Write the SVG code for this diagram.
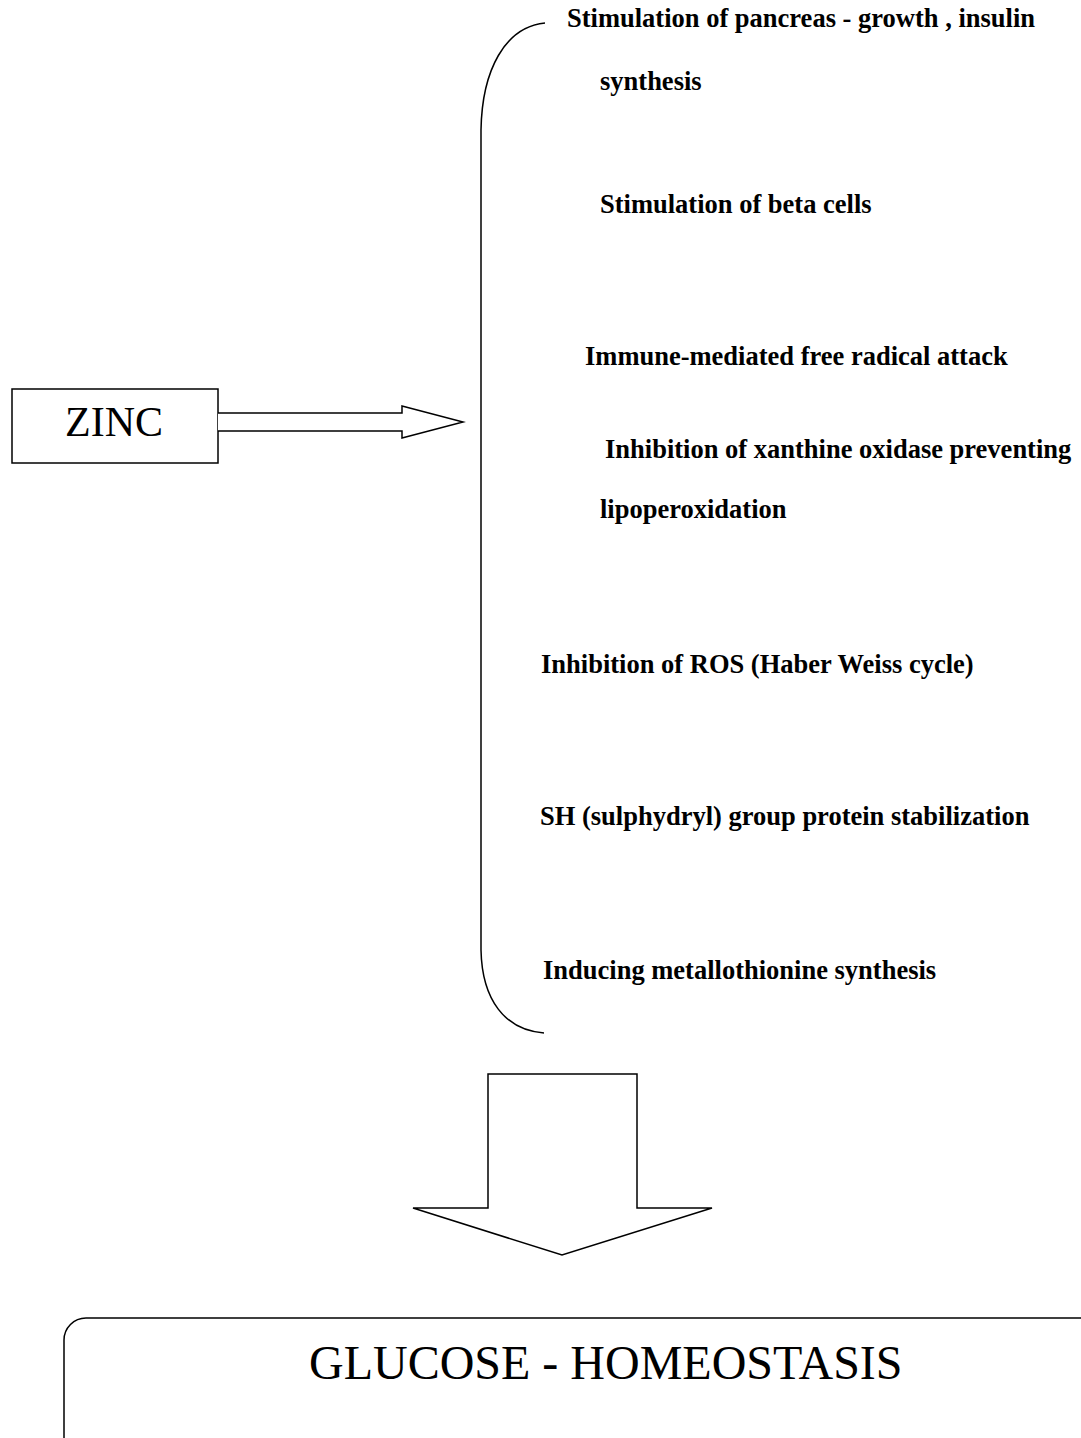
<svg xmlns="http://www.w3.org/2000/svg" width="1081" height="1438" viewBox="0 0 1081 1438">
<style>
.s{fill:#fff;stroke:#000;stroke-width:1.5}
.o{fill:none;stroke:#000;stroke-width:1.5}
.b{font-family:"Liberation Serif","Times New Roman",serif;font-weight:bold;font-size:26.5px;fill:#000}
.r{font-family:"Liberation Serif","Times New Roman",serif;fill:#000}
</style>
<rect width="1081" height="1438" fill="#fff"/>
<g id="zinc">
<rect class="s" x="12" y="389" width="206" height="74"/>
<text class="r" x="65" y="436" font-size="42">ZINC</text>
</g>
<g id="connectors">
<path class="s" d="M218,413 L402,413 L402,406 L463,422 L402,438 L402,431 L218,431"/>
<path class="o" d="M545,23 C505,27 482,70 481,130 L481,950 C482,1000 505,1030 544,1033"/>
<path class="s" d="M488,1074 L637,1074 L637,1208 L712,1208 L562,1255 L413,1208 L488,1208 Z"/>
</g>
<g id="effects">
<text class="b" x="567" y="27">Stimulation of pancreas - growth , insulin</text>
<text class="b" x="600" y="90">synthesis</text>
<text class="b" x="600" y="213">Stimulation of beta cells</text>
<text class="b" x="585" y="365">Immune-mediated free radical attack</text>
<text class="b" x="605" y="458">Inhibition of xanthine oxidase preventing</text>
<text class="b" x="600" y="518">lipoperoxidation</text>
<text class="b" x="541" y="673">Inhibition of ROS (Haber Weiss cycle)</text>
<text class="b" x="540" y="825">SH (sulphydryl) group protein stabilization</text>
<text class="b" x="543" y="979">Inducing metallothionine synthesis</text>
</g>
<g id="glucose">
<rect class="o" x="64" y="1318" width="1060" height="160" rx="22" ry="22"/>
<text class="r" x="309" y="1379" font-size="48">GLUCOSE - HOMEOSTASIS</text>
</g>
</svg>
